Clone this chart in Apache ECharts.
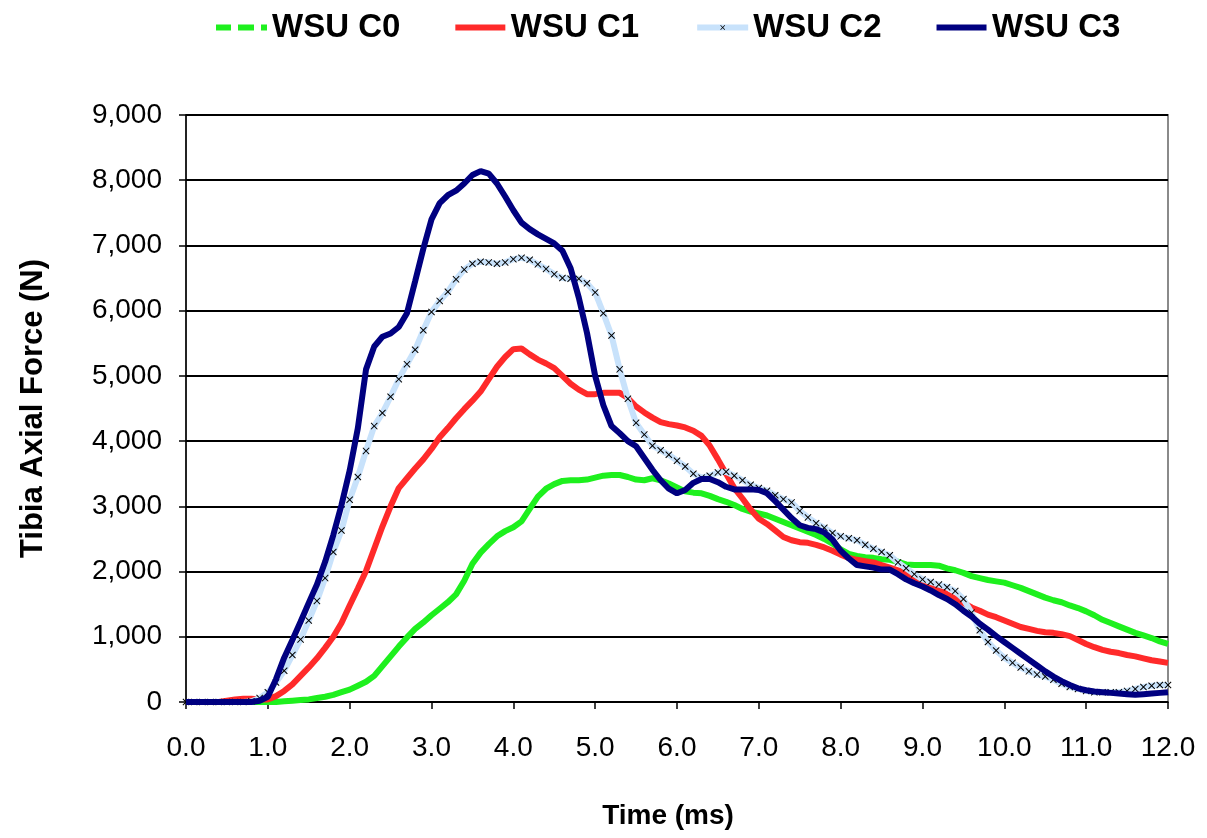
<!DOCTYPE html>
<html>
<head>
<meta charset="utf-8">
<script src="https://cdn.jsdelivr.net/npm/echarts@6/dist/echarts.min.js"></script>
<style>
  html, body { margin: 0; padding: 0; background: #fff; }
  #chart { width: 1207px; height: 838px; }
</style>
</head>
<body>
<div id="chart"></div>
<script>
// Time axis: 0.0 to 12.0 ms in 0.1 ms steps
const timeMs = [];
for (let i = 0; i <= 120; i++) timeMs.push(+(i / 10).toFixed(1));

const xTickLabels = ['0.0','1.0','2.0','3.0','4.0','5.0','6.0','7.0','8.0','9.0','10.0','11.0','12.0'];
const yTickLabels = ['0','1,000','2,000','3,000','4,000','5,000','6,000','7,000','8,000','9,000'];

const seriesNames = ['WSU C0', 'WSU C1', 'WSU C2', 'WSU C3'];

// Tibia axial force (N), one value per 0.1 ms
const wsuC0 = [
  0,0,0,0,0,0,0,0,0,0,
  0,0,10,20,30,40,60,80,110,150,
  190,250,310,400,550,700,850,990,1120,1220,
  1330,1430,1530,1650,1860,2120,2290,2420,2540,2620,
  2680,2770,2960,3150,3270,3340,3390,3400,3400,3410,
  3440,3470,3480,3480,3450,3410,3400,3430,3400,3350,
  3290,3230,3210,3200,3160,3110,3070,3020,2960,2920,
  2890,2860,2810,2760,2710,2660,2610,2560,2500,2430,
  2340,2270,2240,2220,2210,2190,2180,2150,2110,2100,
  2100,2100,2090,2050,2020,1980,1930,1900,1870,1850,
  1830,1790,1750,1700,1650,1600,1560,1530,1480,1440,
  1390,1330,1260,1210,1160,1110,1060,1020,980,930,
  890
];

const wsuC1 = [
  0,0,0,0,0,20,40,50,50,40,
  40,90,170,270,400,530,670,830,1000,1210,
  1480,1740,2010,2350,2690,3000,3280,3430,3580,3720,
  3880,4060,4200,4350,4490,4620,4760,4950,5140,5290,
  5410,5420,5330,5250,5190,5120,5000,4880,4790,4720,
  4720,4740,4740,4740,4660,4530,4440,4360,4290,4260,
  4240,4210,4160,4080,3930,3720,3500,3280,3120,2950,
  2810,2730,2630,2530,2480,2450,2440,2410,2370,2320,
  2260,2210,2180,2160,2140,2100,2060,2020,1980,1910,
  1850,1790,1730,1650,1580,1520,1450,1400,1340,1300,
  1250,1200,1150,1120,1090,1070,1060,1040,1010,950,
  890,840,800,770,750,720,700,670,640,620,
  600
];

const wsuC2 = [
  0,0,0,0,0,0,0,0,10,60,
  150,300,480,720,960,1250,1550,1900,2300,2630,
  3100,3450,3850,4230,4430,4680,4950,5180,5400,5700,
  5980,6150,6290,6480,6630,6720,6750,6740,6720,6740,
  6790,6810,6780,6710,6640,6560,6500,6490,6490,6420,
  6280,5960,5620,5100,4650,4280,4100,3930,3860,3790,
  3700,3610,3500,3440,3470,3520,3530,3470,3400,3330,
  3280,3240,3170,3110,3060,2930,2830,2740,2670,2590,
  2540,2510,2480,2410,2350,2300,2250,2140,2050,1960,
  1880,1840,1800,1760,1700,1580,1370,1100,920,790,
  680,600,530,470,420,390,340,280,230,200,
  170,150,150,150,150,170,200,230,250,260,
  260
];

const wsuC3 = [
  0,0,0,0,0,0,0,0,0,20,
  80,350,680,950,1230,1520,1800,2150,2560,3020,
  3550,4200,5100,5450,5600,5650,5750,5960,6450,6950,
  7400,7650,7770,7840,7950,8080,8140,8100,7950,7750,
  7540,7350,7250,7170,7100,7030,6920,6650,6200,5660,
  5000,4550,4230,4120,4000,3920,3740,3560,3400,3270,
  3200,3250,3360,3420,3420,3370,3300,3260,3260,3260,
  3250,3200,3080,2950,2820,2710,2670,2650,2600,2490,
  2320,2200,2100,2080,2060,2030,2030,1960,1880,1820,
  1770,1710,1640,1580,1500,1400,1310,1200,1110,1010,
  920,830,740,650,560,470,390,320,260,210,
  180,160,150,140,130,120,110,120,130,140,
  150
];

const pairs = vals => timeMs.map((t, i) => [t, vals[i]]);

// small filled "x" glyph used as the WSU C2 marker
const xMark = 'path://M0,1L1,0L5,4L9,0L10,1L6,5L10,9L9,10L5,6L1,10L0,9L4,5Z';
// legend keys: dash-dash-dot for C0, plain thick bar for C1 / C3
const dashDotKey = 'path://M0,0h15v6h-15zM22,0h16v6h-16zM45,0h6v6h-6z';
const barKey = 'path://M0,0h50v6h-50z';

const FONT = '"Liberation Sans", Arial, Helvetica, sans-serif';

const chart = echarts.init(document.getElementById('chart'), null, { renderer: 'canvas' });

chart.setOption({
  animation: false,
  backgroundColor: '#ffffff',
  textStyle: { fontFamily: FONT },
  legend: {
    top: 6,
    left: 211,
    itemWidth: 51,
    itemHeight: 6,
    itemGap: 55,
    lineStyle: { width: 6 },
    textStyle: { fontFamily: FONT, fontSize: 33, fontWeight: 'bold', color: '#000' },
    data: [
      { name: seriesNames[0], icon: dashDotKey },
      { name: seriesNames[1], icon: barKey },
      { name: seriesNames[2] },
      { name: seriesNames[3], icon: barKey }
    ]
  },
  grid: {
    left: 186, top: 115, right: 39, bottom: 136,
    show: true, borderColor: '#8a8a8a', borderWidth: 2, backgroundColor: 'transparent'
  },
  xAxis: {
    type: 'value', min: 0, max: 12, interval: 1,
    name: 'Time (ms)', nameLocation: 'middle', nameGap: 100,
    nameTextStyle: { fontFamily: FONT, fontSize: 28, fontWeight: 'bold', color: '#000', padding: [0, 18, 0, 0] },
    axisLine: { show: true, onZero: false, lineStyle: { color: '#000', width: 1.5 } },
    axisTick: { show: true, inside: false, length: 7, lineStyle: { color: '#000', width: 1.5 } },
    axisLabel: {
      margin: 32, fontFamily: FONT, fontSize: 28, color: '#000',
      formatter: v => xTickLabels[Math.round(v)]
    },
    splitLine: { show: false }
  },
  yAxis: {
    type: 'value', min: 0, max: 9000, interval: 1000,
    name: 'Tibia Axial Force (N)', nameLocation: 'middle', nameGap: 137,
    nameTextStyle: { fontFamily: FONT, fontSize: 31, fontWeight: 'bold', color: '#000' },
    axisLine: { show: true, lineStyle: { color: '#000', width: 1.5 } },
    axisTick: { show: true, inside: false, length: 7, lineStyle: { color: '#000', width: 1.5 } },
    axisLabel: {
      margin: 24, fontFamily: FONT, fontSize: 28, color: '#000',
      formatter: v => yTickLabels[Math.round(v / 1000)]
    },
    splitLine: { show: true, lineStyle: { color: '#000', width: 2 } }
  },
  series: [
    {
      name: seriesNames[0], type: 'line', data: pairs(wsuC0),
      symbol: 'none', z: 2,
      lineStyle: { color: '#1ef01e', width: 6 }, itemStyle: { color: '#1ef01e' }
    },
    {
      name: seriesNames[1], type: 'line', data: pairs(wsuC1),
      symbol: 'none', z: 3,
      lineStyle: { color: '#ff2a2a', width: 6 }, itemStyle: { color: '#ff2a2a' }
    },
    {
      name: seriesNames[2], type: 'line', data: pairs(wsuC2),
      symbol: xMark, symbolSize: 7, showSymbol: true, z: 4,
      lineStyle: { color: '#c8e2fb', width: 6 },
      itemStyle: { color: '#000', borderWidth: 0 }
    },
    {
      name: seriesNames[3], type: 'line', data: pairs(wsuC3),
      symbol: 'none', z: 5,
      lineStyle: { color: '#000080', width: 6 }, itemStyle: { color: '#000080' }
    }
  ]
});
</script>
</body>
</html>
